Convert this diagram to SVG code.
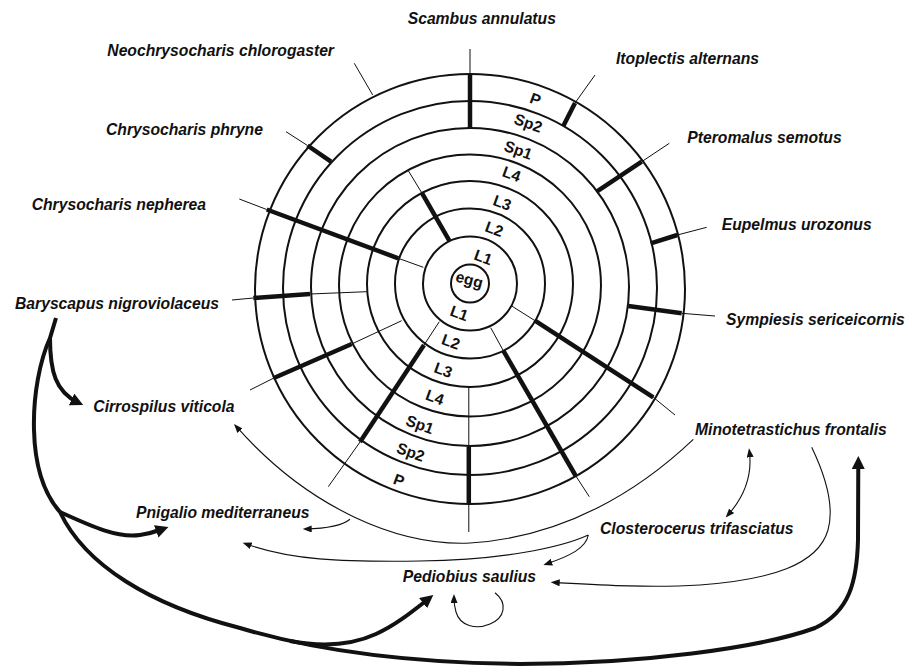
<svg xmlns="http://www.w3.org/2000/svg" width="914" height="667" viewBox="0 0 914 667">
<style>
.lbl{font-family:"Liberation Sans",Arial,Helvetica,sans-serif;font-weight:bold;font-style:italic;font-size:15.7px;fill:#111}
.stg{font-family:"Liberation Sans",Arial,Helvetica,sans-serif;font-weight:bold;font-size:15.5px;fill:#111;text-anchor:middle}
.ring{fill:none;stroke:#111;stroke-width:2}
.thin{stroke:#111;stroke-width:1;fill:none}
.bar{stroke:#111;stroke-width:4.5;fill:none}
.ct{fill:none;stroke:#111;stroke-width:4}
.cn{fill:none;stroke:#111;stroke-width:1.1}
</style>
<defs>
<marker id="ahThick" markerUnits="userSpaceOnUse" markerWidth="14" markerHeight="14" refX="7" refY="6.5" orient="auto"><path d="M0,0 L13,6.5 L0,13 z" fill="#111"/></marker>
<marker id="ahThin" markerUnits="userSpaceOnUse" markerWidth="10" markerHeight="8" refX="6" refY="3.5" orient="auto"><path d="M0,0 L9,3.5 L0,7 z" fill="#111"/></marker>
<marker id="ahThinS" markerUnits="userSpaceOnUse" markerWidth="10" markerHeight="8" refX="6" refY="3.5" orient="auto-start-reverse"><path d="M0,0 L9,3.5 L0,7 z" fill="#111"/></marker>
</defs>
<rect width="914" height="667" fill="#fff"/>

<g id="wheel">
<circle class="ring" cx="470" cy="289" r="215"/>
<circle class="ring" cx="470" cy="288" r="187"/>
<circle class="ring" cx="470" cy="287" r="159"/>
<circle class="ring" cx="470" cy="285.5" r="131"/>
<circle class="ring" cx="470" cy="284" r="103"/>
<circle class="ring" cx="470" cy="283.5" r="75"/>
<circle class="ring" cx="470" cy="283.5" r="47"/>
<circle class="ring" cx="470" cy="283.5" r="19"/>
</g>

<g id="stage-bars">
<!-- Scambus -->
<line class="thin" x1="470" y1="49" x2="470" y2="74"/>
<line class="bar" x1="470" y1="74" x2="470" y2="128.5"/>
<!-- Itoplectis -->
<line class="thin" x1="595" y1="75" x2="575" y2="103"/>
<line class="bar" x1="575" y1="103" x2="563.3" y2="126"/>
<!-- Pteromalus -->
<line class="thin" x1="669.3" y1="143.3" x2="641.7" y2="161.7"/>
<line class="bar" x1="641.7" y1="161.7" x2="596.7" y2="191.7"/>
<!-- Eupelmus -->
<line class="thin" x1="706.7" y1="227.3" x2="677.3" y2="235"/>
<line class="bar" x1="677.3" y1="235" x2="650.7" y2="243.3"/>
<!-- Sympiesis -->
<line class="thin" x1="715" y1="316" x2="681.7" y2="313.3"/>
<line class="bar" x1="681.7" y1="313.3" x2="628.3" y2="306"/>
<!-- lower right 1 -->
<line class="thin" x1="511.7" y1="306" x2="535" y2="320.7"/>
<line class="bar" x1="535" y1="320.7" x2="653.3" y2="397.3"/>
<line class="thin" x1="653.3" y1="397.3" x2="675" y2="415"/>
<!-- lower right 2 -->
<line class="thin" x1="490.7" y1="327.7" x2="503.3" y2="350.7"/>
<line class="bar" x1="503.3" y1="350.7" x2="575.5" y2="475.5"/>
<line class="thin" x1="575.5" y1="475.5" x2="589.3" y2="496.7"/>
<!-- bottom vertical -->
<line class="thin" x1="468.8" y1="386.5" x2="468.8" y2="446.5"/>
<line class="bar" x1="468.8" y1="446.5" x2="468.8" y2="504"/>
<line class="thin" x1="468.8" y1="504" x2="468.8" y2="532"/>
<!-- lower left 1 -->
<line class="thin" x1="439.3" y1="321.7" x2="424" y2="345"/>
<line class="bar" x1="424" y1="345" x2="360" y2="442"/>
<line class="thin" x1="360" y1="442" x2="328.3" y2="486.7"/>
<!-- lower left 2 -->
<line class="thin" x1="401.7" y1="320.7" x2="351.7" y2="344"/>
<line class="bar" x1="351.7" y1="344" x2="273.3" y2="378.3"/>
<line class="thin" x1="273.3" y1="378.3" x2="250" y2="390"/>
<!-- Baryscapus -->
<line class="thin" x1="232" y1="300" x2="253.3" y2="298"/>
<line class="bar" x1="253.3" y1="298" x2="310" y2="294"/>
<line class="thin" x1="310" y1="294" x2="366.7" y2="291.7"/>
<!-- C. nepherea -->
<line class="thin" x1="239.3" y1="199" x2="266.7" y2="209.5"/>
<line class="bar" x1="266.7" y1="209.5" x2="398.3" y2="258.3"/>
<line class="thin" x1="398.3" y1="258.3" x2="423.3" y2="267.3"/>
<!-- C. phryne -->
<line class="thin" x1="286" y1="131.7" x2="307.5" y2="145.5"/>
<line class="bar" x1="307.5" y1="145.5" x2="331" y2="161.7"/>
<!-- Neochrysocharis -->
<line class="thin" x1="354.3" y1="63.3" x2="372.7" y2="95"/>
<!-- inner upper left -->
<line class="thin" x1="408.3" y1="170.7" x2="421.7" y2="192.7"/>
<line class="bar" x1="421.7" y1="192.7" x2="449.3" y2="240.7"/>
</g>

<g id="stage-labels">
<text class="stg" transform="translate(535.5,99) rotate(20)" y="5.5">P</text>
<text class="stg" transform="translate(528.3,123) rotate(20)" y="5.5">Sp2</text>
<text class="stg" transform="translate(518.3,150) rotate(20)" y="5.5">Sp1</text>
<text class="stg" transform="translate(511.7,174) rotate(20)" y="5.5">L4</text>
<text class="stg" transform="translate(502.3,202.7) rotate(20)" y="5.5">L3</text>
<text class="stg" transform="translate(494.3,229) rotate(20)" y="5.5">L2</text>
<text class="stg" transform="translate(483.3,257.3) rotate(20)" y="5.5">L1</text>
<text class="stg" transform="translate(469,281) rotate(15)" y="4">egg</text>
<text class="stg" transform="translate(459.3,313.3) rotate(20)" y="5.5">L1</text>
<text class="stg" transform="translate(451,341.7) rotate(20)" y="5.5">L2</text>
<text class="stg" transform="translate(443.3,370) rotate(20)" y="5.5">L3</text>
<text class="stg" transform="translate(435,397.3) rotate(20)" y="5.5">L4</text>
<text class="stg" transform="translate(420,424.5) rotate(20)" y="5.5">Sp1</text>
<text class="stg" transform="translate(410.7,452) rotate(20)" y="5.5">Sp2</text>
<text class="stg" transform="translate(399,480) rotate(20)" y="5.5">P</text>
</g>

<g id="connectors">
<path class="ct" marker-end="url(#ahThick)" d="M56,318 L50,338 C40,360 33,395 34,430 C35,470 45,495 60,512 C85,565 150,605 240,628 C320,652 420,663 520,664 C640,664 760,648 815,628 C850,612 857,580 858,540 L858.3,462"/>
<path class="ct" marker-end="url(#ahThick)" d="M50,338 C50,372 56,392 77.8,402.5"/>
<path class="ct" marker-end="url(#ahThick)" d="M60,512 C95,528 118,538 140,535 C150,533.5 156,531.5 162.8,529"/>
<path class="ct" marker-end="url(#ahThick)" d="M290,641 C322,647 352,645 376,634 C396,625 413,611 428.6,598.8"/>
<path class="cn" marker-end="url(#ahThin)" d="M693.3,439.3 C640,490 565,537 470,543 C400,546 310,510 236,426.2"/>
<path class="cn" marker-end="url(#ahThin)" d="M350,519.3 C343,525 330,528.5 305.7,529"/>
<path class="cn" marker-end="url(#ahThin)" d="M588.3,535 C560,548 500,560 420,561 C340,562 290,560 245.5,543.7"/>
<path class="cn" marker-end="url(#ahThin)" d="M588.3,535 C586,548 570,556 546.2,564"/>
<path class="cn" marker-start="url(#ahThinS)" marker-end="url(#ahThin)" d="M749.4,451.3 C752,472 746,495 727.7,515.3"/>
<path class="cn" marker-end="url(#ahThin)" d="M811.7,447.3 C825,475 835,505 828,530 C818,565 770,580 700,585 C650,588 600,585 553.7,582.5"/>
<path class="cn" marker-end="url(#ahThin)" d="M495,592.7 C508,603 505,618 490,624 C476,630 460,626 456,612 C454.5,607 454,602 454,597"/>
</g>

<g id="scambus-annulatus"><text class="lbl" x="407.7" y="23.5">Scambus annulatus</text></g>
<g id="neochrysocharis-chlorogaster"><text class="lbl" x="107.3" y="56">Neochrysocharis chlorogaster</text></g>
<g id="itoplectis-alternans"><text class="lbl" x="616" y="64.3">Itoplectis alternans</text></g>
<g id="chrysocharis-phryne"><text class="lbl" x="106" y="135">Chrysocharis phryne</text></g>
<g id="pteromalus-semotus"><text class="lbl" x="687.3" y="142.7">Pteromalus semotus</text></g>
<g id="chrysocharis-nepherea"><text class="lbl" x="31.7" y="210">Chrysocharis nepherea</text></g>
<g id="eupelmus-urozonus"><text class="lbl" x="721.7" y="230">Eupelmus urozonus</text></g>
<g id="baryscapus-nigroviolaceus"><text class="lbl" x="15" y="309">Baryscapus nigroviolaceus</text></g>
<g id="sympiesis-sericeicornis"><text class="lbl" x="726" y="325">Sympiesis sericeicornis</text></g>
<g id="cirrospilus-viticola"><text class="lbl" x="93.3" y="412">Cirrospilus viticola</text></g>
<g id="minotetrastichus-frontalis"><text class="lbl" x="695" y="435">Minotetrastichus frontalis</text></g>
<g id="pnigalio-mediterraneus"><text class="lbl" x="136" y="518.3">Pnigalio mediterraneus</text></g>
<g id="closterocerus-trifasciatus"><text class="lbl" x="600" y="534">Closterocerus trifasciatus</text></g>
<g id="pediobius-saulius"><text class="lbl" x="402.7" y="581.7">Pediobius saulius</text></g>
</svg>
